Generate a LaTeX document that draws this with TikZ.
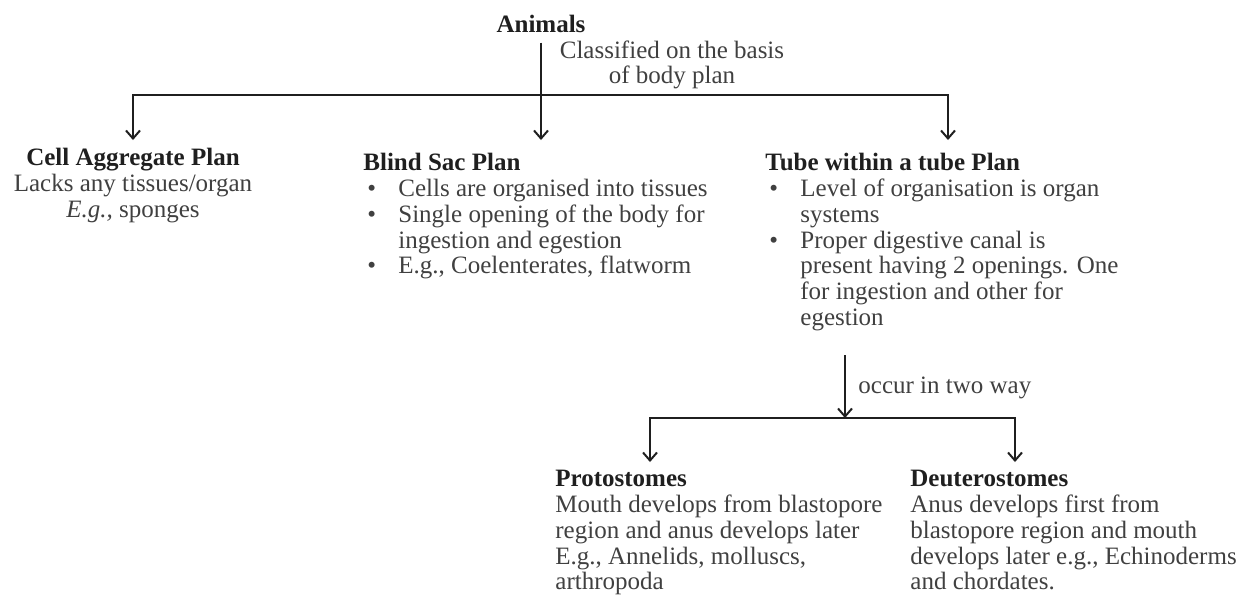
\documentclass[tikz,border=0pt]{standalone}
\usepackage{fontspec}
\setmainfont{Liberation Serif}
\usetikzlibrary{arrows.meta}
\colorlet{ink}{black!88}
\colorlet{body}{black!75}
\newcommand{\head}[1]{{\color{ink}\bfseries #1}}
\newcommand{\bitem}{\hspace*{2pt}\makebox[15.5pt][l]{\textbullet}}
\newcommand{\bcont}{\hspace*{17.5pt}}
\tikzset{
	plan/.style={font=\fontsize{12.5}{12.9}\selectfont, text=body, inner sep=0pt, align=left},
	title/.style={font=\fontsize{12.5}{12.9}\selectfont\bfseries, text=ink, inner sep=0pt},
	link/.style={ink, line width=1pt},
	arr/.style={link, -{Straight Barb[length=4pt, width=7pt]}, shorten >=4pt}
}
\begin{document}
\begin{tikzpicture}[x=0.5pt, y=-0.5pt]
	\useasboundingbox (0, 0) rectangle (1248, 602);
	\node (animals) at (541, 32) [title, anchor=base] {Animals};
	\node (basis) at (672, 40) [plan, anchor=north, align=center] {Classified on the basis\\of body plan};
	\node (cell) at (133, 148) [plan, anchor=north, align=center] {\head{Cell Aggregate Plan}\\Lacks any tissues/organ\\\textit{E.g.,} sponges};
	\node (blind) at (363, 153) [plan, anchor=north west] {\head{Blind Sac Plan}\\
	\bitem Cells are organised into tissues\\
	\bitem Single opening of the body for\\
	\bcont ingestion and egestion\\
	\bitem E.g., Coelenterates, flatworm};
	\node (tube) at (765, 153) [plan, anchor=north west] {\head{Tube within a tube Plan}\\
	\bitem Level of organisation is organ\\
	\bcont systems\\
	\bitem Proper digestive canal is\\
	\bcont present having 2 openings. One\\
	\bcont for ingestion and other for\\
	\bcont egestion};
	\node (occur) at (858, 393) [plan, anchor=base west] {occur in two way};
	\node (proto) at (555, 470) [plan, anchor=north west] {\head{Protostomes}\\
	Mouth develops from blastopore\\
	region and anus develops later\\
	E.g., Annelids, molluscs,\\
	arthropoda};
	\node (deutero) at (910, 470) [plan, anchor=north west] {\head{Deuterostomes}\\
	Anus develops first from\\
	blastopore region and mouth\\
	develops later e.g., Echinoderms\\
	and chordates.};

	\coordinate (busL) at (133, 95);
	\coordinate (busM) at (541, 95);
	\coordinate (busR) at (948, 95);
	\draw[arr] (busM) -- (busL) -- (cell.north);
	\draw[arr, shorten >=6.5pt] (busM) -- (busR) -- (busR |- tube.north);
	\draw[arr, shorten <=5pt, shorten >=6.5pt] (animals.south) -- (animals |- blind.north);

	\coordinate (fork) at (845, 418);
	\coordinate (forkL) at (650, 418);
	\coordinate (forkR) at (1015, 418);
	\draw[arr, shorten <=12pt, shorten >=0pt] (tube.south -| fork) -- (fork);
	\draw[arr] (fork) -- (forkL) -- (forkL |- proto.north);
	\draw[arr] (fork) -- (forkR) -- (forkR |- deutero.north);
\end{tikzpicture}
\end{document}
